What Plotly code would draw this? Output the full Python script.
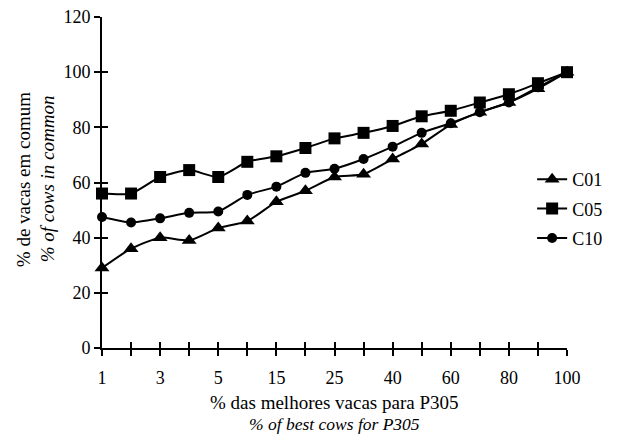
import plotly.graph_objects as go

categories = ["1", "2", "3", "4", "5", "10", "15", "20", "25", "30", "40", "50", "60", "70", "80", "90", "100"]
shown_labels = ["1", "3", "5", "15", "25", "40", "60", "80", "100"]
c01 = [29, 36, 40, 39, 43.5, 46, 53, 57, 62, 63, 68.5, 74, 81, 85.5, 89, 94, 100]
c05 = [56, 56, 62, 64.5, 62, 67.5, 69.5, 72.5, 76, 78, 80.5, 84, 86, 89, 92, 96, 100]
c10 = [47.5, 45.5, 47, 49, 49.5, 55.5, 58.5, 63.5, 65, 68.5, 73, 78, 81.5, 85.5, 89, 94.5, 100]
y_ticks = [0, 20, 40, 60, 80, 100, 120]

FONT = "Liberation Serif, Times New Roman, serif"
fig = go.Figure()
series = [("C01", c01, "triangle-up", 13), ("C05", c05, "square", 12), ("C10", c10, "circle", 10)]
for name, vals, sym, size in series:
    fig.add_trace(go.Scatter(
        x=categories, y=vals, name=name, mode="lines+markers", legendgroup=name,
        line=dict(color="black", width=2, shape="spline", smoothing=0.6),
        marker=dict(symbol=sym, size=size, color="black"),
        cliponaxis=False,
    ))

ticktext = [c if c in shown_labels else "" for c in categories]
axis_common = dict(showgrid=False, zeroline=False, linecolor="black", linewidth=2,
                   tickcolor="black", tickwidth=2, ticklen=6)
fig.update_layout(
    width=623, height=435,
    margin=dict(l=94, r=64, t=9, b=95, autoexpand=False),
    paper_bgcolor="white", plot_bgcolor="white",
    font=dict(family=FONT, size=18, color="black"),
    showlegend=True,
    legend=dict(x=0.925, y=0.42, xanchor="left", yanchor="middle",
                font=dict(family=FONT, size=18), bgcolor="rgba(0,0,0,0)",
                itemwidth=30, tracegroupgap=3),
    xaxis=dict(type="category", categoryorder="array", categoryarray=categories,
               range=[0, 16], tickvals=categories, ticktext=ticktext, ticks="outside",
               showline=True, tickfont=dict(family=FONT, size=18),
               ticklabelstandoff=6, ticklabeloverflow="allow", **axis_common),
    yaxis=dict(range=[0, 120], tickvals=y_ticks, ticks="outside", showline=True,
               tickfont=dict(family=FONT, size=18), ticklabeloverflow="allow",
               **axis_common),
    xaxis2=dict(overlaying="x", matches="x", type="category", categoryorder="array",
                categoryarray=categories, range=[0, 16], tickvals=categories,
                ticktext=[""] * len(categories), ticks="inside", showline=False,
                side="bottom", anchor="y", **axis_common),
    yaxis2=dict(overlaying="y", range=[0, 120], tickvals=y_ticks,
                ticktext=[""] * len(y_ticks), ticks="inside", showline=False,
                side="left", anchor="x", **axis_common),
)
# invisible trace to activate the secondary (inside tick) axes
fig.add_trace(go.Scatter(x=[categories[0]], y=[0], xaxis="x2", yaxis="y2",
                         mode="markers", marker=dict(opacity=0), showlegend=False,
                         hoverinfo="skip"))

fig.add_annotation(text="% das melhores vacas para P305", xref="paper", yref="paper",
                   x=0.5, y=-0.166, xanchor="center", yanchor="middle", showarrow=False,
                   font=dict(family=FONT, size=19))
fig.add_annotation(text="<i>% of best cows for P305</i>", xref="paper", yref="paper",
                   x=0.5, y=-0.229, xanchor="center", yanchor="middle", showarrow=False,
                   font=dict(family=FONT, size=17.5))
fig.add_annotation(text="% de vacas em comum", xref="paper", yref="paper",
                   x=-0.17, y=0.51, xanchor="center", yanchor="middle", showarrow=False,
                   textangle=-90, font=dict(family=FONT, size=19))
fig.add_annotation(text="<i>% of cows in common</i>", xref="paper", yref="paper",
                   x=-0.118, y=0.51, xanchor="center", yanchor="middle", showarrow=False,
                   textangle=-90, font=dict(family=FONT, size=19))

fig.write_html("out.html")
